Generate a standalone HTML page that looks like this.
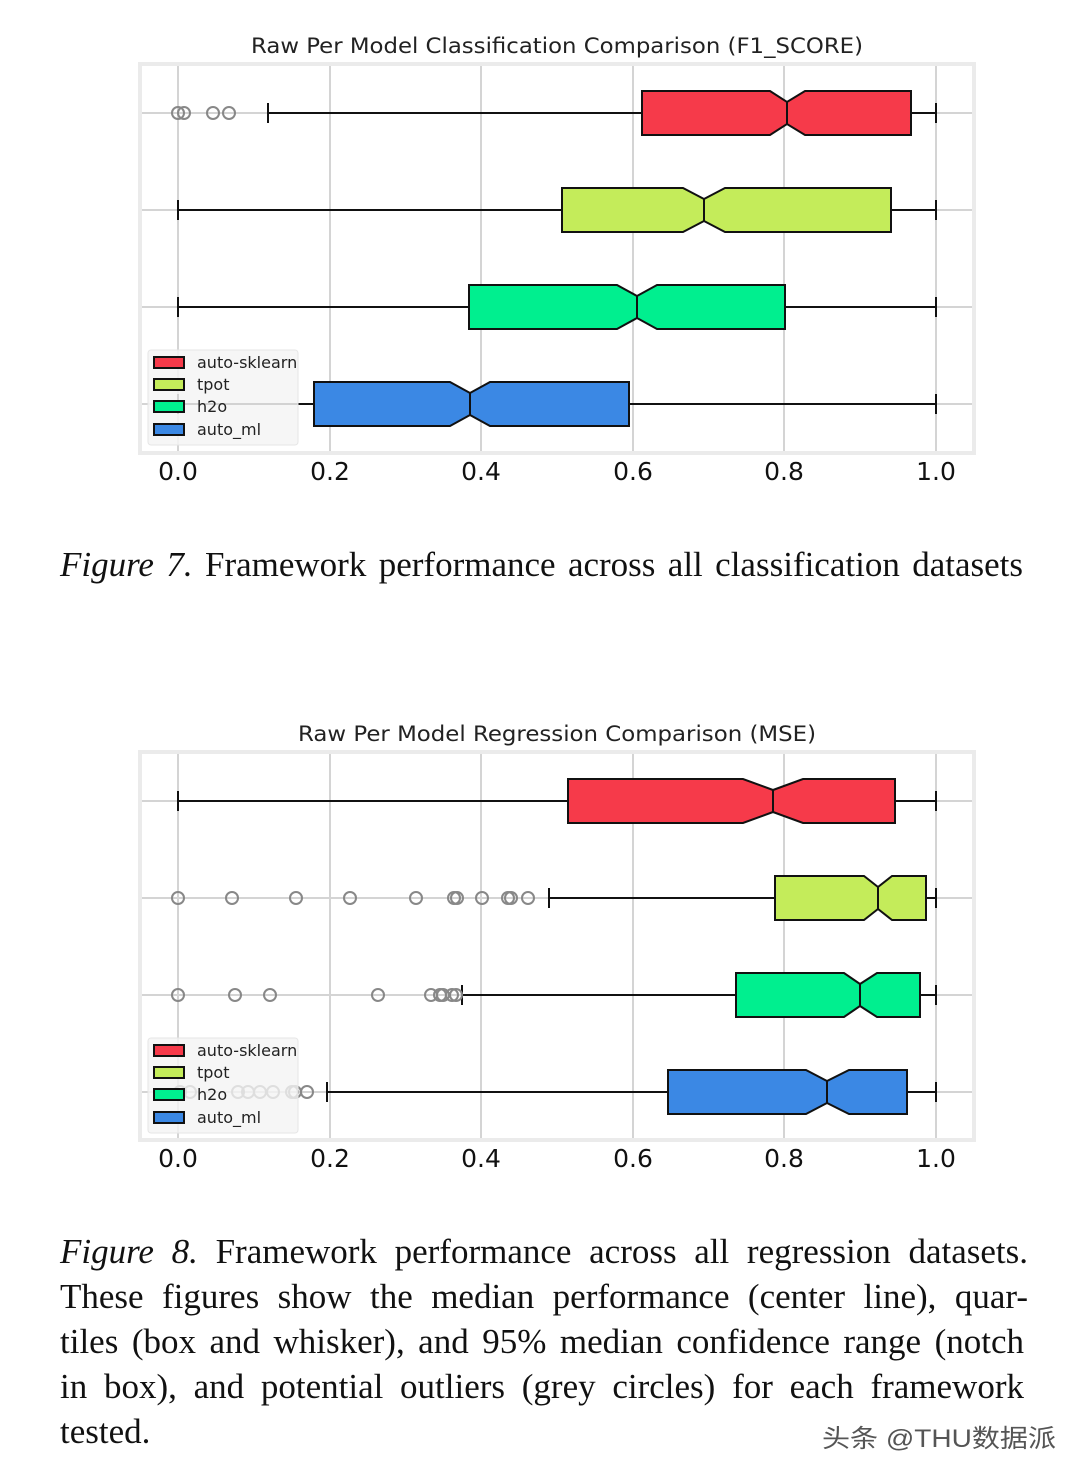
<!DOCTYPE html>
<html><head><meta charset="utf-8"><style>
body{margin:0;background:#fff;width:1080px;height:1477px;overflow:hidden;position:relative}
svg{position:absolute;left:0;top:0}
.l{position:absolute;left:60px;font-family:"Liberation Serif",serif;font-size:35px;color:#111;line-height:45px;white-space:nowrap;text-align:justify;text-align-last:justify}
</style></head><body>
<svg width="1080" height="1477" xmlns="http://www.w3.org/2000/svg" font-family="DejaVu Sans, Liberation Sans, sans-serif">
<!-- Chart 1 -->
<text x="251" y="53" font-size="21" textLength="612" lengthAdjust="spacingAndGlyphs" fill="#222">Raw Per Model Classification Comparison (F1_SCORE)</text>
<rect x="140" y="64" width="834" height="389" fill="#fff" stroke="#ebebeb" stroke-width="4"/>
<g stroke="#d4d4d4" stroke-width="2">
<line x1="178" y1="66" x2="178" y2="451"/><line x1="330" y1="66" x2="330" y2="451"/><line x1="481" y1="66" x2="481" y2="451"/><line x1="633" y1="66" x2="633" y2="451"/><line x1="784" y1="66" x2="784" y2="451"/><line x1="936" y1="66" x2="936" y2="451"/>
<line x1="142" y1="113" x2="972" y2="113"/><line x1="142" y1="210" x2="972" y2="210"/><line x1="142" y1="307" x2="972" y2="307"/><line x1="142" y1="404" x2="972" y2="404"/>
</g>
<g stroke="#111" stroke-width="2" fill="none">
<line x1="268" y1="113" x2="936" y2="113"/><line x1="268" y1="103" x2="268" y2="123"/><line x1="936" y1="103" x2="936" y2="123"/>
<line x1="178" y1="210" x2="936" y2="210"/><line x1="178" y1="200" x2="178" y2="220"/><line x1="936" y1="200" x2="936" y2="220"/>
<line x1="178" y1="307" x2="936" y2="307"/><line x1="178" y1="297" x2="178" y2="317"/><line x1="936" y1="297" x2="936" y2="317"/>
<line x1="178" y1="404" x2="936" y2="404"/><line x1="178" y1="394" x2="178" y2="414"/><line x1="936" y1="394" x2="936" y2="414"/>
</g>
<g fill="none" stroke="#888" stroke-width="2">
<circle cx="178" cy="113" r="6"/><circle cx="184" cy="113" r="6"/><circle cx="213" cy="113" r="6"/><circle cx="229" cy="113" r="6"/>
</g>
<g stroke="#111" stroke-width="2">
<polygon fill="#f63a4a" points="642,91 770,91 787,102 805,91 911,91 911,135 805,135 787,124 770,135 642,135"/><line x1="787" y1="102" x2="787" y2="124"/>
<polygon fill="#c4ec5a" points="562,188 683,188 704,199 725,188 891,188 891,232 725,232 704,221 683,232 562,232"/><line x1="704" y1="199" x2="704" y2="221"/>
<polygon fill="#00ef8f" points="469,285 617,285 637,296 657,285 785,285 785,329 657,329 637,318 617,329 469,329"/><line x1="637" y1="296" x2="637" y2="318"/>
<polygon fill="#3b88e4" points="314,382 450,382 470,393 490,382 629,382 629,426 490,426 470,415 450,426 314,426"/><line x1="470" y1="393" x2="470" y2="415"/>
</g>
<rect x="148" y="350" width="150" height="95" rx="3" fill="#f4f4f4" fill-opacity="0.85" stroke="#e6e6e6"/>
<g stroke="#111" stroke-width="2">
<rect x="154" y="357" width="30" height="11" fill="#f63a4a"/><rect x="154" y="379" width="30" height="11" fill="#c4ec5a"/><rect x="154" y="401" width="30" height="11" fill="#00ef8f"/><rect x="154" y="424" width="30" height="11" fill="#3b88e4"/>
</g>
<g font-size="16" fill="#222"><text x="197" y="368">auto-sklearn</text><text x="197" y="390">tpot</text><text x="197" y="412">h2o</text><text x="197" y="435">auto_ml</text></g>
<g font-size="25" fill="#111" text-anchor="middle"><text x="178" y="480">0.0</text><text x="330" y="480">0.2</text><text x="481" y="480">0.4</text><text x="633" y="480">0.6</text><text x="784" y="480">0.8</text><text x="936" y="480">1.0</text></g>

<!-- Chart 2 -->
<text x="298" y="741" font-size="21" textLength="518" lengthAdjust="spacingAndGlyphs" fill="#222">Raw Per Model Regression Comparison (MSE)</text>
<rect x="140" y="752" width="834" height="388" fill="#fff" stroke="#ebebeb" stroke-width="4"/>
<g stroke="#d4d4d4" stroke-width="2">
<line x1="178" y1="754" x2="178" y2="1138"/><line x1="330" y1="754" x2="330" y2="1138"/><line x1="481" y1="754" x2="481" y2="1138"/><line x1="633" y1="754" x2="633" y2="1138"/><line x1="784" y1="754" x2="784" y2="1138"/><line x1="936" y1="754" x2="936" y2="1138"/>
<line x1="142" y1="801" x2="972" y2="801"/><line x1="142" y1="898" x2="972" y2="898"/><line x1="142" y1="995" x2="972" y2="995"/><line x1="142" y1="1092" x2="972" y2="1092"/>
</g>
<g stroke="#111" stroke-width="2" fill="none">
<line x1="178" y1="801" x2="936" y2="801"/><line x1="178" y1="791" x2="178" y2="811"/><line x1="936" y1="791" x2="936" y2="811"/>
<line x1="549" y1="898" x2="936" y2="898"/><line x1="549" y1="888" x2="549" y2="908"/><line x1="936" y1="888" x2="936" y2="908"/>
<line x1="462" y1="995" x2="936" y2="995"/><line x1="462" y1="985" x2="462" y2="1005"/><line x1="936" y1="985" x2="936" y2="1005"/>
<line x1="327" y1="1092" x2="936" y2="1092"/><line x1="327" y1="1082" x2="327" y2="1102"/><line x1="936" y1="1082" x2="936" y2="1102"/>
</g>
<g fill="none" stroke="#888" stroke-width="2">
<circle cx="178" cy="898" r="6"/><circle cx="232" cy="898" r="6"/><circle cx="296" cy="898" r="6"/><circle cx="350" cy="898" r="6"/><circle cx="416" cy="898" r="6"/><circle cx="454" cy="898" r="6"/><circle cx="457" cy="898" r="6"/><circle cx="482" cy="898" r="6"/><circle cx="508" cy="898" r="6"/><circle cx="511" cy="898" r="6"/><circle cx="528" cy="898" r="6"/>
<circle cx="178" cy="995" r="6"/><circle cx="235" cy="995" r="6"/><circle cx="270" cy="995" r="6"/><circle cx="378" cy="995" r="6"/><circle cx="431" cy="995" r="6"/><circle cx="440" cy="995" r="6"/><circle cx="443" cy="995" r="6"/><circle cx="452" cy="995" r="6"/><circle cx="456" cy="995" r="6"/>
<circle cx="180" cy="1092" r="6"/><circle cx="190" cy="1092" r="6"/><circle cx="238" cy="1092" r="6"/><circle cx="248" cy="1092" r="6"/><circle cx="260" cy="1092" r="6"/><circle cx="273" cy="1092" r="6"/><circle cx="292" cy="1092" r="6"/><circle cx="295" cy="1092" r="6"/><circle cx="307" cy="1092" r="6"/>
</g>
<g stroke="#111" stroke-width="2">
<polygon fill="#f63a4a" points="568,779 743,779 773,790 803,779 895,779 895,823 803,823 773,812 743,823 568,823"/><line x1="773" y1="790" x2="773" y2="812"/>
<polygon fill="#c4ec5a" points="775,876 864,876 878,887 892,876 926,876 926,920 892,920 878,909 864,920 775,920"/><line x1="878" y1="887" x2="878" y2="909"/>
<polygon fill="#00ef8f" points="736,973 844,973 860,984 877,973 920,973 920,1017 877,1017 860,1006 844,1017 736,1017"/><line x1="860" y1="984" x2="860" y2="1006"/>
<polygon fill="#3b88e4" points="668,1070 806,1070 827,1081 849,1070 907,1070 907,1114 849,1114 827,1103 806,1114 668,1114"/><line x1="827" y1="1081" x2="827" y2="1103"/>
</g>
<rect x="148" y="1038" width="150" height="95" rx="3" fill="#f4f4f4" fill-opacity="0.8" stroke="#e6e6e6"/>
<g stroke="#111" stroke-width="2">
<rect x="154" y="1045" width="30" height="11" fill="#f63a4a"/><rect x="154" y="1067" width="30" height="11" fill="#c4ec5a"/><rect x="154" y="1089" width="30" height="11" fill="#00ef8f"/><rect x="154" y="1112" width="30" height="11" fill="#3b88e4"/>
</g>
<g font-size="16" fill="#222"><text x="197" y="1056">auto-sklearn</text><text x="197" y="1078">tpot</text><text x="197" y="1100">h2o</text><text x="197" y="1123">auto_ml</text></g>
<g font-size="25" fill="#111" text-anchor="middle"><text x="178" y="1167">0.0</text><text x="330" y="1167">0.2</text><text x="481" y="1167">0.4</text><text x="633" y="1167">0.6</text><text x="784" y="1167">0.8</text><text x="936" y="1167">1.0</text></g>
<text x="822" y="1447" font-size="25" textLength="234" lengthAdjust="spacingAndGlyphs" fill="#555" font-family="Liberation Sans, Noto Sans CJK SC, sans-serif">头条 @THU数据派</text>
</svg>
<div class="l" style="top:542px;width:963px"><i>Figure 7.</i> Framework performance across all classification datasets</div>
<div class="l" style="top:1229px;width:968px"><i>Figure 8.</i> Framework performance across all regression datasets.</div>
<div class="l" style="top:1274px;width:968px">These figures show the median performance (center line), quar-</div>
<div class="l" style="top:1319px;width:964px">tiles (box and whisker), and 95% median confidence range (notch</div>
<div class="l" style="top:1364px;width:964px">in box), and potential outliers (grey circles) for each framework</div>
<div class="l" style="top:1409px;text-align:left;text-align-last:left">tested.</div>
</body></html>
